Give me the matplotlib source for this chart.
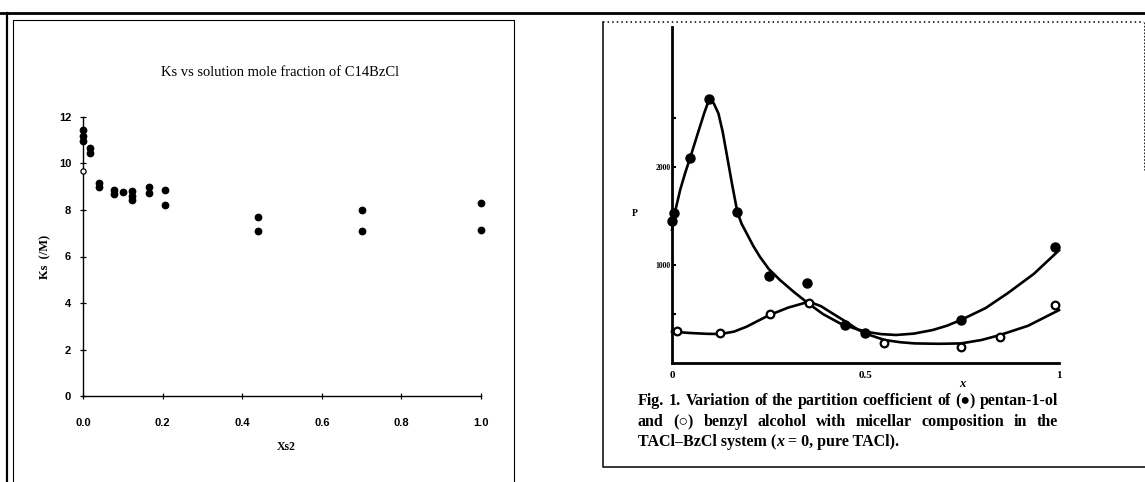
import matplotlib.pyplot as plt

# left panel: Ks vs solution mole fraction of C14BzCl
ks_x = [0.0, 0.0, 0.0, 0.018, 0.018, 0.041, 0.041, 0.079, 0.079, 0.101,
        0.122, 0.122, 0.122, 0.165, 0.165, 0.207, 0.207, 0.439, 0.439,
        0.701, 0.701, 1.0, 1.0]
ks_y = [11.43, 11.2, 10.98, 10.65, 10.45, 9.18, 9.0, 8.85, 8.68, 8.77,
        8.82, 8.6, 8.45, 8.97, 8.75, 8.85, 8.2, 7.72, 7.08,
        7.98, 7.08, 8.32, 7.12]
ks_open_x = [0.0]
ks_open_y = [9.66]
ks_xticks = [0.0, 0.2, 0.4, 0.6, 0.8, 1.0]
ks_yticks = [0, 2, 4, 6, 8, 10, 12]

# right panel: partition coefficient P vs x
pent_x = [0.0, 0.005, 0.047, 0.096, 0.169, 0.25, 0.35, 0.447, 0.50, 0.748, 0.99]
pent_y = [1450, 1530, 2095, 2690, 1538, 888, 820, 388, 306, 440, 1185]
benz_x = [0.014, 0.125, 0.252, 0.354, 0.549, 0.748, 0.847, 0.99]
benz_y = [330, 306, 500, 615, 204, 166, 268, 592]
pent_curve_x = [0.0, 0.01, 0.021, 0.034, 0.047, 0.06, 0.072, 0.084, 0.096, 0.108,
                0.12, 0.131, 0.141, 0.155, 0.169, 0.18, 0.193, 0.21, 0.227, 0.25,
                0.279, 0.315, 0.352, 0.39, 0.434, 0.47, 0.50, 0.54, 0.579, 0.625,
                0.674, 0.71, 0.747, 0.81, 0.868, 0.935, 1.0]
pent_curve_y = [1360, 1580, 1765, 1940, 2095, 2260, 2411, 2560, 2690, 2650,
                2547, 2360, 2140, 1830, 1538, 1420, 1323, 1195, 1085, 960,
                847, 725, 609, 500, 405, 355, 320, 295, 286, 300,
                337, 380, 440, 560, 714, 910, 1150]
benz_curve_x = [0.0, 0.048, 0.09, 0.125, 0.16, 0.193, 0.222, 0.252, 0.3, 0.354,
                0.385, 0.413, 0.45, 0.482, 0.515, 0.549, 0.59, 0.627, 0.69, 0.747,
                0.8, 0.847, 0.92, 1.0]
benz_curve_y = [320, 306, 298, 296, 320, 371, 430, 490, 565, 626,
                580, 510, 420, 337, 280, 235, 212, 200, 196, 200,
                235, 285, 380, 540]
p_ticks = [500, 1000, 1500, 2000, 2500]
p_ticklabels = ['', '1000', '', '2000', '']

W, H = 1145, 482
fig = plt.figure(figsize=(W / 100, H / 100), dpi=100)

# overlay in pixel units for frames, titles and caption
ov = fig.add_axes([0, 0, 1, 1])
ov.set_xlim(0, W)
ov.set_ylim(H, 0)
ov.axis('off')

serif = ['Liberation Serif', 'DejaVu Serif']
k = 'black'
ov.plot([0, W], [13, 13], color=k, lw=2.0)
ov.plot([7, 7], [13, H], color=k, lw=1.6)
ov.plot([12.5, 12.5, 514, 514], [H, 20, 20, H], color=k, lw=0.8)
ov.plot([603, W - 1], [22, 22], color=k, lw=1.1, ls=(0, (1, 2)))
ov.plot([603, 603, W], [22, 467, 467], color=k, lw=1.1)
ov.plot([W - 1.5, W - 1.5], [22, 170], color=k, lw=0.6, ls=(0, (2, 2)))

# ---- left chart
ax1 = fig.add_axes([83 / W, 1 - 396 / H, 398 / W, 279 / H])
ax1.set_facecolor('none')
ax1.scatter(ks_x, ks_y, s=21, marker='o', color=k, zorder=3, clip_on=False)
ax1.scatter(ks_open_x, ks_open_y, s=14, marker='o', facecolor='white',
            edgecolor=k, lw=0.9, zorder=4, clip_on=False)
ax1.set_xlim(0, 1.0)
ax1.set_ylim(0, 12)
ax1.set_xticks(ks_xticks)
ax1.set_xticklabels(['0.0', '0.2', '0.4', '0.6', '0.8', '1.0'])
ax1.set_yticks(ks_yticks)
for s in ['top', 'right']:
    ax1.spines[s].set_visible(False)
for s in ['left', 'bottom']:
    ax1.spines[s].set_linewidth(1.0)
ax1.tick_params(direction='inout', length=5, width=0.9, labelsize=8)
ax1.tick_params(axis='x', pad=13)
ax1.tick_params(axis='y', pad=6)
for t in ax1.get_xticklabels() + ax1.get_yticklabels():
    t.set_fontweight('bold')
    t.set_family(['Liberation Sans', 'DejaVu Sans'])
ov.text(280, 72, 'Ks vs solution mole fraction of C14BzCl', ha='center',
        va='center', fontsize=10.5, family=serif)
ov.text(45, 257, 'Ks  (/M)', ha='center', va='center', rotation=90,
        fontsize=9, fontweight='bold', family=serif)
ov.text(286, 447, 'Xs2', ha='center', va='center', fontsize=8.5,
        fontweight='bold', family=serif)

# ---- right chart
ax2 = fig.add_axes([672 / W, 1 - 363 / H, 387 / W, 336 / H])
ax2.set_facecolor('none')
ax2.plot(pent_curve_x, pent_curve_y, color=k, lw=1.9, clip_on=False)
ax2.plot(benz_curve_x, benz_curve_y, color=k, lw=1.9, clip_on=False)
ax2.plot(pent_x, pent_y, 'o', color=k, ms=6.5, clip_on=False, zorder=4)
ax2.plot(benz_x, benz_y, 'o', mfc='white', mec=k, mew=1.6, ms=5.5,
         clip_on=False, zorder=4)
ax2.set_xlim(0, 1)
ax2.set_ylim(0, 3430)
ax2.set_xticks([0, 0.5, 1])
ax2.set_xticklabels(['0', '0.5', '1'])
ax2.set_yticks(p_ticks)
ax2.set_yticklabels(p_ticklabels)
for s in ['top', 'right']:
    ax2.spines[s].set_visible(False)
for s in ['left', 'bottom']:
    ax2.spines[s].set_linewidth(2.0)
ax2.tick_params(axis='y', direction='in', length=3, width=1.5, labelsize=5.5, pad=1)
ax2.tick_params(axis='x', direction='in', length=0, labelsize=8, pad=6)
for t in ax2.get_xticklabels() + ax2.get_yticklabels():
    t.set_fontweight('bold')
    t.set_family(serif)
ov.text(635, 213, 'P', ha='center', va='center', fontsize=7,
        fontweight='bold', family=serif)
ov.text(962, 384, 'x', ha='center', va='center', fontsize=9,
        fontweight='bold', style='italic', family=serif)

# justified caption
renderer = fig.canvas.get_renderer()
cap_kw = dict(fontsize=11.5, fontweight='bold',
              family=['Liberation Serif', 'DejaVu Sans'], va='center', ha='left')
x0, x1 = 638, 1058


def justify(words, y):
    texts = [ov.text(0, y, w, **cap_kw) for w in words]
    widths = [t.get_window_extent(renderer).width for t in texts]
    gap = (x1 - x0 - sum(widths)) / (len(words) - 1)
    x = x0
    for t, w in zip(texts, widths):
        t.set_x(x)
        x += w + gap


justify('Fig. 1. Variation of the partition coefficient of (\u25cf) pentan-1-ol'.split(), 401)
justify('and (\u25cb) benzyl alcohol with micellar composition in the'.split(), 422)
x = x0
for piece, st in [('TACl\u2013BzCl system (', 'normal'), ('x', 'italic'),
                  (' = 0, pure TACl).', 'normal')]:
    t = ov.text(x, 442, piece, style=st, **cap_kw)
    x += t.get_window_extent(renderer).width

fig.savefig('out.png', dpi=100)
